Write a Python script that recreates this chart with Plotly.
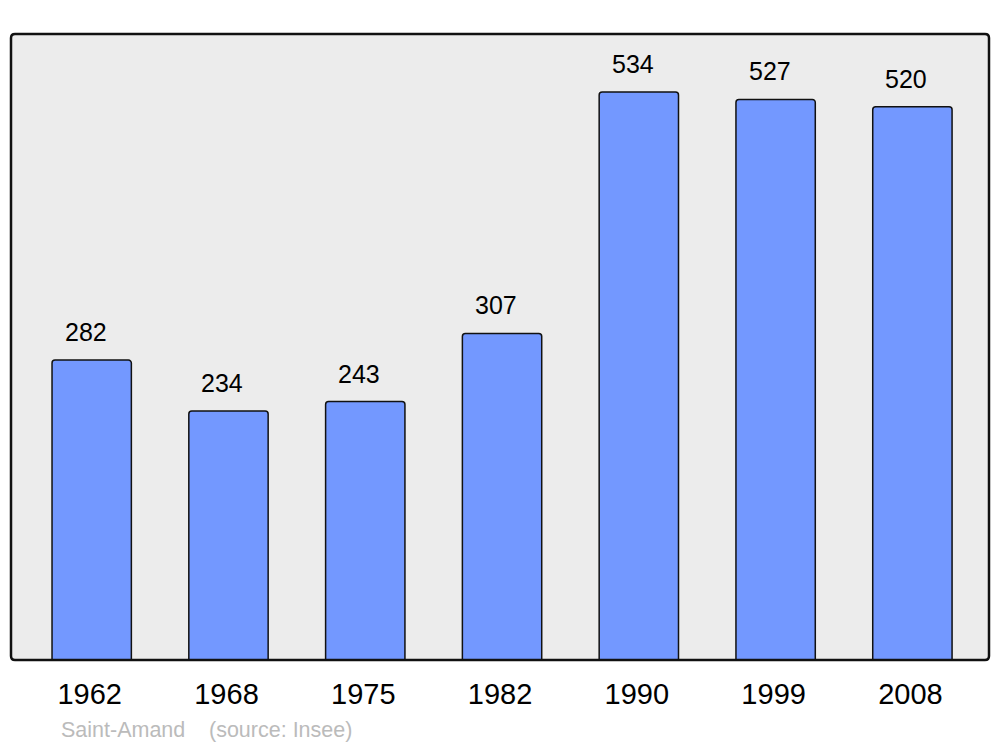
import plotly.graph_objects as go

years = ["1962", "1968", "1975", "1982", "1990", "1999", "2008"]
population = [282, 234, 243, 307, 534, 527, 520]
commune = "Saint-Amand"
source = "(source: Insee)"

# page body has an 8px margin, so the figure is sized to fit the 1000x747 window
OFF = 8
W, H = 1000 - OFF, 747 - OFF
ml, mr, mt, mb = 11 - OFF, 11, 34 - OFF, 87
pw, ph = W - ml - mr, H - mt - mb

FONT = "Liberation Sans, Arial"

fig = go.Figure()
fig.add_trace(go.Bar(
    x=list(range(len(years))), y=population, width=0.58,
    marker=dict(color="#7398FF", line=dict(color="#111111", width=1.5)),
    hoverinfo="skip",
))

for i, v in enumerate(population):
    fig.add_annotation(x=i, y=v, xref="x", yref="y", text=str(v), showarrow=False,
                       xshift=-6, yshift=28, yanchor="middle",
                       font=dict(family=FONT, size=25, color="#000000"))

# rounded border of plot area
rx, ry = 4 / pw, 4 / ph
path = (f"M {rx},0 L {1-rx},0 Q 1,0 1,{ry} L 1,{1-ry} Q 1,1 {1-rx},1 "
        f"L {rx},1 Q 0,1 0,{1-ry} L 0,{ry} Q 0,0 {rx},0 Z")
fig.add_shape(type="path", path=path, xref="paper", yref="paper",
              line=dict(color="#111111", width=2.5), fillcolor="rgba(0,0,0,0)", layer="above")


def px_x(p):
    return (p - OFF - ml) / pw


def px_y(p):
    return (H - mb - (p - OFF)) / ph


fig.add_annotation(x=px_x(59), y=px_y(730), xref="paper", yref="paper", text=commune, showarrow=False,
                   xanchor="left", yanchor="middle",
                   font=dict(family=FONT, size=21.5, color="#BBBBBB"))
fig.add_annotation(x=px_x(207), y=px_y(730), xref="paper", yref="paper", text=source, showarrow=False,
                   xanchor="left", yanchor="middle",
                   font=dict(family=FONT, size=21.5, color="#BBBBBB"))

fig.update_layout(
    width=W, height=H, margin=dict(l=ml, r=mr, t=mt, b=mb),
    paper_bgcolor="#FFFFFF", plot_bgcolor="#ECECEC",
    barcornerradius=3, showlegend=False,
    xaxis=dict(range=[-0.59, 6.56], tickmode="array", tickvals=list(range(len(years))),
               ticktext=years, showgrid=False, zeroline=False, showline=False,
               ticks="", ticklabelshift=-2, ticklabelstandoff=14,
               tickfont=dict(family=FONT, size=29, color="#000000")),
    yaxis=dict(range=[0, 588.5], visible=False, showgrid=False, zeroline=False),
)

fig.write_html("out.html")
